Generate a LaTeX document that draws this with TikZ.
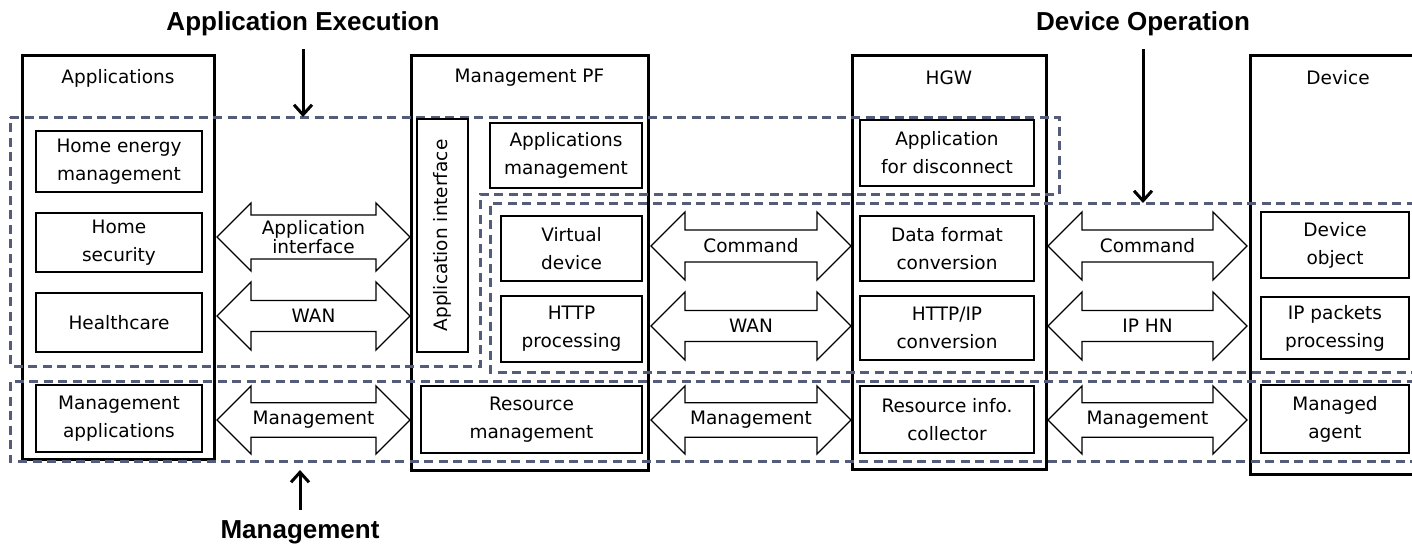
\documentclass[tikz,border=0pt]{standalone}
\usepackage{fontspec}
\setmainfont{DejaVu Sans}
\newfontfamily\headfont{Liberation Sans}
\usetikzlibrary{shapes.arrows,arrows.meta}
\definecolor{zone}{RGB}{84,92,122}

% item box given by its corners: name, x1, y1, x2, y2, text
\newcommand\placebox[6]{\node[itembox,minimum width={(#4)-(#2)},minimum height={(#5)-(#3)}] (#1) at ({((#2)+(#4))/2},{((#3)+(#5))/2}) {#6};}
% layer column given by its corners: name, x1, y1, x2, y2
\newcommand\placecol[5]{\node[colbox,minimum width={(#4)-(#2)},minimum height={(#5)-(#3)}] (#1) at ({((#2)+(#4))/2},{((#3)+(#5))/2}) {};}
% two-way block arrow: name, x tip left, x tip right, y centre, text
\newcommand\placeflow[5]{\node[flow,minimum height={(#3)-(#2)}] (#1) at ({((#2)+(#3))/2},#4) {#5};}

\begin{document}
\begin{tikzpicture}[x=1pt,y=-1pt,
  colbox/.style={draw=black,line width=3pt,inner sep=0pt},
  itembox/.style={draw=black,fill=white,line width=1.3pt,align=center,inner sep=0pt,
    font=\fontsize{18.5}{28}\selectfont},
  flow/.style={draw=black,fill=white,line width=1.3pt,double arrow,double arrow head extend=10pt,
    double arrow tip angle=90,minimum width=68pt,inner sep=1pt,align=center,
    font=\fontsize{18.5}{19}\selectfont},
  zoneline/.style={draw=zone,line width=3pt,dash pattern=on 9pt off 5.5pt},
  heading/.style={font=\headfont\bfseries\fontsize{26}{28}\selectfont,inner sep=0pt},
  collabel/.style={font=\fontsize{18.5}{22}\selectfont},
  pointer/.style={line width=3pt,-{Straight Barb[length=10pt,width=18pt,line width=3pt]}}
]
\useasboundingbox (0,0) rectangle (1412,544);
\clip (0,0) rectangle (1412,544);

% layer columns
\placecol{apps}{22}{55}{214}{459}
\placecol{mpf}{411}{55}{648}{470}
\placecol{hgw}{852}{55}{1046}{469}
\placecol{dev}{1250}{55}{1426}{474}
\node[collabel] (appslbl) at (118,78) {Applications};
\node[collabel] (mpflbl) at (529.5,78) {Management PF};
\node[collabel] (hgwlbl) at (949,78) {HGW};
\node[collabel] (devlbl) at (1338,78) {Device};

% functional zones
\draw[zoneline] (10,117) -- (1059,117) -- (1059,194) -- (480,194) -- (480,366) -- (10,366) -- cycle;
\draw[zoneline] (1430,203) -- (490,203) -- (490,372) -- (1430,372);
\draw[zoneline] (1430,381) -- (10,381) -- (10,461) -- (1430,461);

% applications
\placebox{hem}{36}{131}{202}{192}{Home energy\\management}
\placebox{hsec}{36}{213}{202}{272}{Home\\security}
\placebox{hcare}{36}{293}{202}{352}{Healthcare}
\placebox{mapps}{36}{385}{202}{452}{Management\\applications}

% management platform
\node[draw=black,fill=white,line width=1.3pt,minimum width=51pt,minimum height=233pt,inner sep=0pt]
  (apif) at (442.5,235.5) {};
\node[rotate=90,font=\fontsize{18.5}{22}\selectfont] (apiftxt) at (apif.center) {Application interface};
\placebox{amgmt}{490}{123}{642}{188}{Applications\\management}
\placebox{vdev}{501}{216}{642}{281}{Virtual\\device}
\placebox{httpp}{501}{296}{642}{362}{HTTP\\processing}
\placebox{resm}{421}{386}{642}{453}{Resource\\management}

% home gateway
\placebox{disc}{860}{120}{1034}{186}{Application\\for disconnect}
\placebox{dfc}{860}{216}{1034}{281}{Data format\\conversion}
\placebox{hipc}{860}{296}{1034}{360}{HTTP/IP\\conversion}
\placebox{ric}{860}{386}{1034}{453}{Resource info.\\collector}

% device
\placebox{dobj}{1261}{212}{1409}{278}{Device\\object}
\placebox{ipp}{1261}{297}{1409}{359}{IP packets\\processing}
\placebox{magent}{1261}{385}{1409}{453}{Managed\\agent}

% exchanges between layers
\placeflow{f1}{217}{410}{237}{Application\\interface}
\placeflow{f2}{217}{410}{316}{WAN}
\placeflow{f3}{217}{410}{420}{Management}
\placeflow{f4}{651}{851}{246}{Command}
\placeflow{f5}{651}{851}{326}{WAN}
\placeflow{f6}{651}{851}{420}{Management}
\placeflow{f7}{1048}{1247}{246}{Command}
\placeflow{f8}{1048}{1247}{326}{IP HN}
\placeflow{f9}{1048}{1247}{420}{Management}

% zone headings
\node[heading] (exec) at (303,24) {Application Execution};
\node[heading] (oper) at (1143,24) {Device Operation};
\node[heading] (mgmt) at (300,532) {Management};
\coordinate (execend) at (303,117);
\coordinate (operend) at (1143,203);
\coordinate (mgmtend) at (300,470);
\draw[pointer,shorten <=13pt] (exec) -- (execend);
\draw[pointer,shorten <=13pt] (oper) -- (operend);
\draw[pointer,shorten <=10pt] (mgmt) -- (mgmtend);
\end{tikzpicture}
\end{document}
